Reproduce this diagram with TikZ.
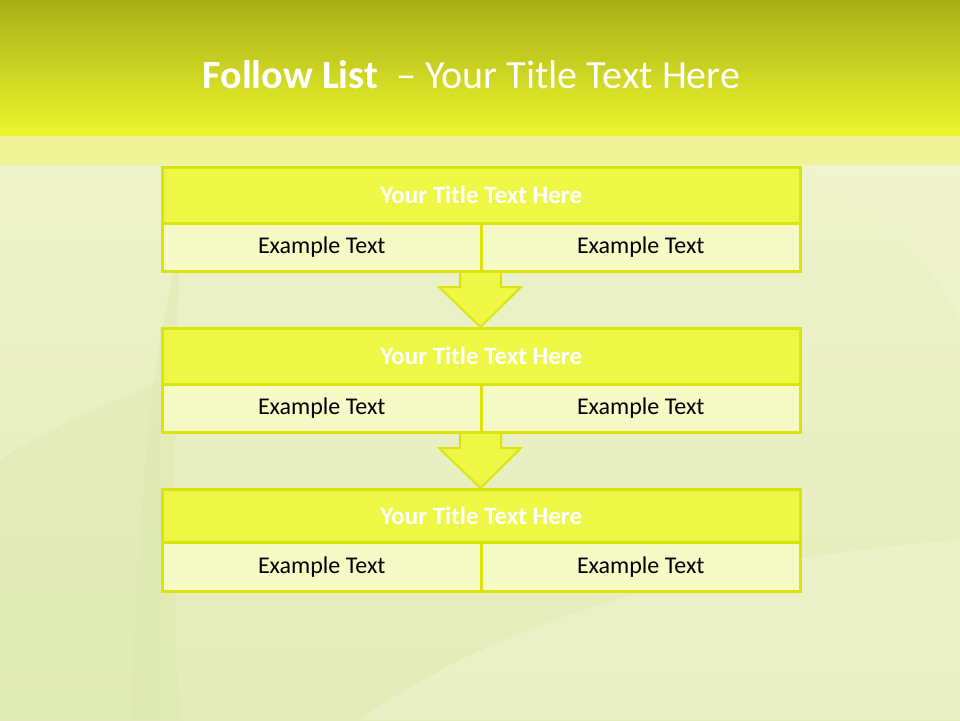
\documentclass[tikz,border=0pt]{standalone}
\usepackage{fontspec}
\setmainfont{Carlito}
\definecolor{topdark}{HTML}{A9AE18}
\definecolor{topbright}{HTML}{EDF62C}
\definecolor{bandlight}{HTML}{EEF58E}
\definecolor{bgA}{HTML}{EEF3CC}
\definecolor{bgB}{HTML}{E3ECB8}
\definecolor{leaf}{HTML}{DDE8AE}
\definecolor{leafL}{HTML}{F0F5D2}
\definecolor{headfill}{HTML}{EEF746}
\definecolor{rowfill}{HTML}{F5FAC6}
\definecolor{edge}{HTML}{D9E40C}
\tikzset{
  headbox/.style={draw=edge, line width=2.5pt, fill=headfill, minimum width=638pt, text=white, font=\fontsize{25}{28}\selectfont\bfseries, inner sep=0pt},
  cellbox/.style={draw=edge, line width=2.5pt, fill=rowfill, minimum width=319pt, text=black, font=\fontsize{24}{28}\selectfont, inner sep=0pt},
  downarrow/.style={draw=edge, line width=2pt, fill=headfill, line join=miter}
}
\begin{document}
\begin{tikzpicture}[x=1pt,y=-1pt]
\useasboundingbox (0,0) rectangle (960,720);
% background
\shade[top color=bgA, bottom color=bgB] (0,136) rectangle (960,720);
\fill[leaf, opacity=0.45] (130,720) .. controls (140,500) and (150,350) .. (180,250) .. controls (175,400) and (170,560) .. (180,720) -- cycle;
\fill[leafL, opacity=0.5] (360,720) .. controls (500,620) and (700,560) .. (960,540) -- (960,720) -- cycle;
\fill[leaf, opacity=0.4] (0,460) .. controls (60,420) and (120,400) .. (160,380) -- (160,720) -- (0,720) -- cycle;
\fill[leafL, opacity=0.5] (800,165) .. controls (880,200) and (930,260) .. (960,320) -- (960,165) -- cycle;
% top bands
\shade[top color=topdark, bottom color=topbright] (0,0) rectangle (960,136);
\fill[bandlight, opacity=0.85] (0,136) rectangle (960,165);
\node[text=white, font=\fontsize{40}{44}\selectfont] (title) at (471.5,75) {\textbf{Follow List} \ – Your Title Text Here};
% arrows
\draw[downarrow] (460,268) -- (460,287) -- (439,287) -- (480.5,327) -- (521,287) -- (501,287) -- (501,268) -- cycle;
\draw[downarrow] (460,429) -- (460,448) -- (439,448) -- (480.5,488) -- (521,448) -- (501,448) -- (501,429) -- cycle;
% box 1
\node[headbox, minimum height=56pt, anchor=north west] (h1) at (161,166) {Your Title Text Here};
\node[cellbox, minimum height=48pt, anchor=north west] (a1) at (161,222) {Example Text};
\node[cellbox, minimum height=48pt, anchor=north west] (b1) at (480,222) {Example Text};
% box 2
\node[headbox, minimum height=56pt, anchor=north west] (h2) at (161,327) {Your Title Text Here};
\node[cellbox, minimum height=48pt, anchor=north west] (a2) at (161,383) {Example Text};
\node[cellbox, minimum height=48pt, anchor=north west] (b2) at (480,383) {Example Text};
% box 3
\node[headbox, minimum height=53pt, anchor=north west] (h3) at (161,488) {Your Title Text Here};
\node[cellbox, minimum height=49pt, anchor=north west] (a3) at (161,541) {Example Text};
\node[cellbox, minimum height=49pt, anchor=north west] (b3) at (480,541) {Example Text};
\end{tikzpicture}
\end{document}
